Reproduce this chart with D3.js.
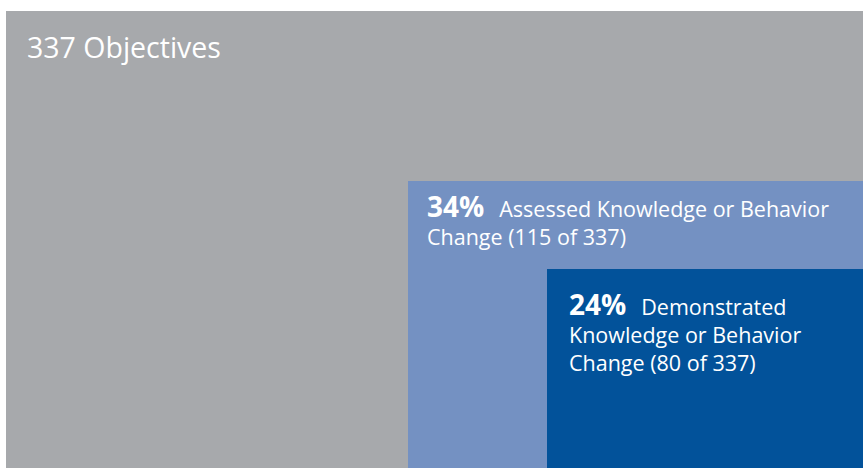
<!DOCTYPE html>
<html>
  <head>
    <title>Objectives</title>
    <script src="https://d3js.org/d3.v7.min.js"></script>
    <style>
      body { margin: 0; background: #fff; }
      svg text { font-family: "Open Sans", "Noto Sans", sans-serif; fill: #fff; }
    </style>
  </head>
  <body>
    <div id="chart"></div>
    <script>
      // Data
      var labels = ["Objectives", "Assessed Knowledge or Behavior Change", "Demonstrated Knowledge or Behavior Change"];
      var counts = [337, 115, 80];
      var percents = [null, 34, 24];
      var colors = ["#a7a9ac", "#7491c2", "#02529a"];

      var width = 863, height = 468;

      var svg = d3.select("#chart")
        .append("svg")
        .attr("width", width)
        .attr("height", height);

      // nested boxes: the smaller the count, the further in the corner starts
      var xScale = d3.scaleLinear()
        .domain([80, 115, 337])
        .range([547, 408, 6]);

      var yScale = d3.scaleLinear()
        .domain([80, 115, 337])
        .range([269, 181, 11]);

      var data = counts.map(function(c, i) {
        return { count: c, label: labels[i], pct: percents[i], color: colors[i] };
      });

      svg.selectAll("rect")
        .data(data)
        .enter()
        .append("rect")
        .attr("x", function(d) { return xScale(d.count); })
        .attr("y", function(d) { return yScale(d.count); })
        .attr("width", function(d) { return width - xScale(d.count); })
        .attr("height", function(d) { return height - yScale(d.count); })
        .attr("fill", function(d) { return d.color; });

      // Outer label
      svg.append("text")
        .attr("x", xScale(counts[0]) + 21)
        .attr("y", yScale(counts[0]) + 47)
        .style("font-size", "28.5px")
        .text(counts[0] + " " + labels[0]);

      // Inner labels, wrapped by hand
      var lines = [
        ["Assessed Knowledge or Behavior", "Change (" + counts[1] + " of " + counts[0] + ")"],
        ["Demonstrated", "Knowledge or Behavior", "Change (" + counts[2] + " of " + counts[0] + ")"]
      ];
      var pad = [[19, 36], [22, 46]];

      [1, 2].forEach(function(i) {
        var x0 = xScale(counts[i]) + pad[i - 1][0];
        var y0 = yScale(counts[i]) + pad[i - 1][1];
        var t = svg.append("text")
          .attr("x", x0)
          .attr("y", y0);
        t.append("tspan")
          .style("font-size", "28px")
          .style("font-weight", "bold")
          .text(percents[i] + "%");
        t.append("tspan")
          .attr("dx", 15)
          .style("font-size", "21.5px")
          .text(lines[i - 1][0]);
        lines[i - 1].slice(1).forEach(function(l, j) {
          svg.append("text")
            .attr("x", x0)
            .attr("y", y0 + 28 * (j + 1))
            .style("font-size", "21.5px")
            .text(l);
        });
      });
    </script>
  </body>
</html>
